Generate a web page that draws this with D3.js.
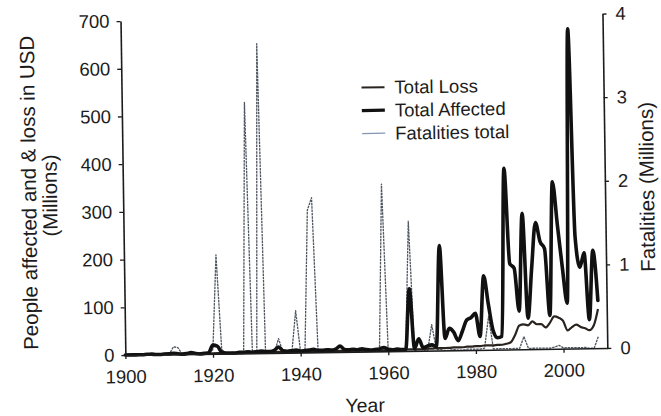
<!DOCTYPE html>
<html>
<head>
<meta charset="utf-8">
<script src="https://cdn.jsdelivr.net/npm/d3@7"></script>
<style>
  body { margin: 0; background: #ffffff; }
  svg { font-family: "Liberation Sans", Arial, Helvetica, sans-serif; }
</style>
</head>
<body>
<svg></svg>
<script>
// values, one per year 1900..2008
var years = d3.range(1900, 2009);

// people affected (millions, left axis)
var totalAffected = [
  0, 0, 0, 0, 0, 1, 1, 0, 0, 1,
  1, 2, 1, 0, 1, 3, 1, 0, 1, 2,
  18, 16, 3, 1, 1, 1, 2, 2, 3, 2,
  3, 4, 3, 3, 5, 12, 4, 3, 4, 5,
  3, 4, 5, 6, 4, 4, 5, 4, 6, 12,
  5, 4, 5, 4, 6, 4, 3, 4, 5, 8,
  4, 3, 4, 3, 3, 130, 5, 25, 6, 10,
  12, 8, 220, 25, 46, 38, 20, 40, 63, 68,
  77, 28, 155, 95, 40, 25, 28, 380, 180, 170,
  80, 285, 65, 170, 265, 225, 210, 70, 350, 260,
  170, 95, 670, 235, 170, 200, 60, 205, 100
];

// loss in USD (millions, left axis)
var totalLoss = [
  1, 1, 1, 1, 1, 1, 1, 1, 1, 1,
  1, 1, 1, 1, 1, 1, 1, 1, 1, 1,
  1, 1, 1, 1, 1, 1, 1, 1, 1, 1,
  1, 1, 1, 1, 1, 2, 1, 1, 1, 1,
  1, 1, 1, 2, 1, 1, 1, 1, 2, 2,
  2, 2, 2, 2, 2, 2, 2, 2, 2, 2,
  2, 2, 2, 2, 3, 3, 3, 3, 3, 4,
  4, 5, 5, 5, 5, 6, 6, 6, 7, 7,
  8, 8, 9, 9, 9, 10, 10, 12, 15, 30,
  50, 52, 50, 58, 52, 52, 45, 55, 68, 65,
  58, 38, 45, 50, 45, 42, 38, 48, 82
];

// fatalities (millions, right axis)
var fatalities = [
  0, 0, 0, 0, 0, 0, 0, 0, 0, 0,
  0, 0.09, 0.08, 0, 0, 0.02, 0, 0, 0, 0,
  0.05, 1.18, 0.05, 0, 0, 0, 0, 0, 3.0, 0,
  0, 3.7, 0, 0, 0, 0.17, 0, 0, 0, 0.5,
  0, 0, 1.7, 1.85, 0, 0, 0, 0, 0.01, 0.08,
  0.01, 0, 0, 0, 0.01, 0, 0, 0, 0, 2.0,
  0, 0, 0, 0, 0, 1.55, 0, 0.02, 0.01, 0,
  0.31, 0.01, 0.01, 0, 0, 0.01, 0, 0, 0.01, 0.01,
  0.01, 0.01, 0.02, 0.4, 0.01, 0.01, 0.01, 0.01, 0.01, 0.01,
  0.01, 0.15, 0.01, 0.01, 0.01, 0.01, 0.01, 0.01, 0.02, 0.04,
  0.01, 0.01, 0.01, 0.01, 0.01, 0.01, 0, 0, 0.14
];

var xTicks = [1900, 1920, 1940, 1960, 1980, 2000];
var leftTicks = [0, 100, 200, 300, 400, 500, 600, 700];
var rightTicks = [0, 1, 2, 3, 4];
var legendLabels = ["Total Loss", "Total Affected", "Fatalities total"];

var screen = { width: 661, height: 416 };

var plot = {
  left: 123,   // left axis / 1900
  right: 605,  // right axis / 2010
  bottom: 351.5,
  top: 17.5
};

var ink = "#1c1c1c";

var svg = d3.select("svg")
            .attr("width", screen.width)
            .attr("height", screen.height);

svg.append("rect")
   .attr("width", screen.width)
   .attr("height", screen.height)
   .attr("fill", "#ffffff");

// the scan sits slightly tilted
var chart = svg.append("g")
               .attr("transform", "rotate(-0.83, 366, 190)");

var xScale = d3.scaleLinear()
               .domain([1900, 2010])
               .range([plot.left, plot.right]);

var yLeft = d3.scaleLinear()
              .domain([0, 700])
              .range([plot.bottom, plot.top]);

var yRight = d3.scaleLinear()
               .domain([0, 4])
               .range([plot.bottom, plot.top - 0.5]);

var rows = years.map(function(y, i) {
  return { year: y, affected: totalAffected[i], loss: totalLoss[i], dead: fatalities[i] };
});

//fatalities, thin grey (drawn first, sits under the others)
var deadLine = d3.line()
                 .x(function(d) { return xScale(d.year); })
                 .y(function(d) { return yRight(d.dead); });

chart.append("path")
     .datum(rows)
     .attr("d", deadLine)
     .attr("fill", "none")
     .attr("stroke", "#4f5660")
     .attr("stroke-width", 1.3)
     .attr("stroke-dasharray", "2.5,0.8")
     .attr("stroke-linejoin", "round");

//total loss, medium dark
var lossLine = d3.line()
                 .curve(d3.curveMonotoneX)
                 .x(function(d) { return xScale(d.year); })
                 .y(function(d) { return yLeft(d.loss); });

chart.append("path")
     .datum(rows)
     .attr("d", lossLine)
     .attr("fill", "none")
     .attr("stroke", "#2a2420")
     .attr("stroke-width", 2.2)
     .attr("stroke-linejoin", "round");

//total affected, thick black
var affectedLine = d3.line()
                     .curve(d3.curveMonotoneX)
                     .x(function(d) { return xScale(d.year); })
                     .y(function(d) { return yLeft(d.affected); });

chart.append("path")
     .datum(rows)
     .attr("d", affectedLine)
     .attr("fill", "none")
     .attr("stroke", "#111111")
     .attr("stroke-width", 3.6)
     .attr("stroke-linejoin", "round")
     .attr("stroke-linecap", "round");

//axes
var xAxis = d3.axisBottom(xScale)
              .tickValues(xTicks)
              .tickFormat(d3.format("d"))
              .tickSize(4)
              .tickSizeOuter(0)
              .tickPadding(11);

var leftAxis = d3.axisLeft(yLeft)
                 .tickValues(leftTicks)
                 .tickFormat(d3.format("d"))
                 .tickSize(4)
                 .tickSizeOuter(0)
                 .tickPadding(7);

var rightAxis = d3.axisRight(yRight)
                  .tickValues(rightTicks)
                  .tickFormat(d3.format("d"))
                  .tickSize(4)
                  .tickSizeOuter(0)
                  .tickPadding(9);

function styleAxis(g) {
  g.select(".domain").attr("stroke", ink).attr("stroke-width", 1.6);
  g.selectAll(".tick line").attr("stroke", ink).attr("stroke-width", 1.3);
  g.selectAll(".tick text")
   .attr("fill", ink)
   .style("font-size", "18.5px");
  g.attr("font-family", null);
}

chart.append("g")
     .attr("transform", "translate(0," + plot.bottom + ")")
     .call(xAxis)
     .call(styleAxis);

chart.append("g")
     .attr("transform", "translate(" + plot.left + ",0)")
     .call(leftAxis)
     .call(styleAxis);

chart.append("g")
     .attr("transform", "translate(" + plot.right + ",0)")
     .call(rightAxis)
     .call(styleAxis);

//axis titles
chart.append("text")
     .attr("transform", "translate(36,188) rotate(-90)")
     .attr("text-anchor", "middle")
     .attr("fill", ink)
     .style("font-size", "20.5px")
     .text("People affected and & loss in USD");

chart.append("text")
     .attr("transform", "translate(57,191) rotate(-90)")
     .attr("text-anchor", "middle")
     .attr("fill", ink)
     .style("font-size", "20.5px")
     .text("(Millions)");

chart.append("text")
     .attr("transform", "translate(654,191) rotate(-90)")
     .attr("text-anchor", "middle")
     .attr("fill", ink)
     .style("font-size", "20.5px")
     .text("Fatalities (Millions)");

chart.append("text")
     .attr("x", 362)
     .attr("y", 412)
     .attr("text-anchor", "middle")
     .attr("fill", ink)
     .style("font-size", "19.5px")
     .text("Year");

//legend
var legendStyles = [
  { stroke: "#2a2420", width: 2 },
  { stroke: "#111111", width: 3.2 },
  { stroke: "#8296ad", width: 1.2 }
];

var legend = chart.append("g")
                  .attr("transform", "translate(363,87.5)");

var legendLines = legend.selectAll("g")
                        .data(legendLabels)
                        .enter()
                        .append("g")
                        .attr("transform", function(d, i) { return "translate(0," + (i * 23) + ")"; });

legendLines.append("line")
           .attr("x1", 0)
           .attr("x2", 23)
           .attr("y1", 0)
           .attr("y2", 0)
           .attr("stroke", function(d, i) { return legendStyles[i].stroke; })
           .attr("stroke-width", function(d, i) { return legendStyles[i].width; });

legendLines.append("text")
           .attr("x", 33)
           .attr("y", 6.5)
           .attr("fill", ink)
           .style("font-size", "18.5px")
           .text(function(d) { return d; });
</script>
</body>
</html>
